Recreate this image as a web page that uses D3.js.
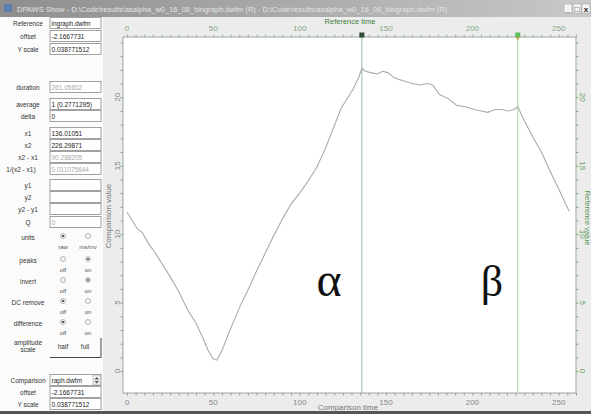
<!DOCTYPE html>
<html>
<head>
<meta charset="utf-8">
<script src="https://cdn.jsdelivr.net/npm/d3@7"></script>
<style>
  body { margin: 0; background: #fff; overflow: hidden; }
  svg text { font-family: "Liberation Sans", Arial, sans-serif; }
</style>
</head>
<body>
<svg id="chart" width="591" height="414"></svg>
<script>
// curve (comparison time / value)
const timeVals = [0, 3, 6, 9, 12, 16, 20, 25, 30, 35, 40, 44, 47, 50, 52, 55, 60, 65, 70, 75, 80, 85, 90, 95,
  100, 105, 110, 115, 120, 124, 128, 131, 134, 136, 138, 141, 145, 148, 151, 155, 160, 165, 170, 174, 177,
  181, 186, 191, 196, 201, 205, 209, 213, 217, 221, 224, 226.3, 230, 235, 240, 245, 250, 254, 256];
const compVals = [11.6, 11.0, 10.4, 10.1, 9.4, 8.7, 7.9, 6.9, 5.8, 4.5, 3.5, 2.4, 1.5, 0.9, 0.8, 1.5, 3.1, 4.6, 5.9, 7.3, 8.6, 9.9, 11.1, 12.2,
  13.0, 13.9, 14.9, 16.3, 17.9, 19.2, 20.0, 20.6, 21.4, 22.1, 21.9, 21.8, 21.7, 21.9, 21.8, 21.4, 21.2, 21.0, 20.9, 21.0, 20.9,
  20.2, 19.9, 19.4, 19.3, 19.1, 19.0, 18.9, 19.1, 19.1, 19.0, 19.1, 19.3, 18.3, 17.1, 16.0, 14.6, 13.3, 12.2, 11.7];
const xTicks = [0, 50, 100, 150, 200, 250];
const yTicks = [0, 5, 10, 15, 20];
const cursorX1 = 136.01051;
const cursorX2 = 226.29871;
const greekLabels = ["α", "β"];

// panel on the left
const fieldLabels = ["Reference", "offset", "Y scale", "duration", "average", "delta", "x1", "x2", "x2 - x1", "1/(x2 - x1)", "y1", "y2", "y2 - y1", "Q"];
const fieldValues = ["ingraph.dwfm", "-2.1667731", "0.038771512", "261.05602", "1 (0.2771295)", "0", "136.01051", "226.29871", "90.288205", "0.011075644", "", "", "", "0"];
const fieldDisabled = [false, false, false, true, false, false, false, false, true, true, false, false, false, true];
const radioLabels = ["units", "peaks", "invert", "DC remove", "difference"];
const radioOptions = [["raw", "ms/mv"], ["off", "on"], ["off", "on"], ["off", "on"], ["off", "on"]];
const radioChecked = [0, 1, 1, 0, 0];
const compLabels = ["Comparison", "offset", "Y scale"];
const compValues = ["raph.dwfm", "-2.1667731", "0.038771512"];
const titleText = "DPAWS Show - D:\\Code\\results\\asalpha_w0_16_08_bingraph.dwfm (R) - D:\\Code\\results\\asalpha_w0_16_08_bingraph.dwfm (R)";

var svg = d3.select("#chart");

// fondo de la ventana
svg.append("rect").attr("width", 591).attr("height", 414).attr("fill", "#fbfbfb");
svg.append("rect").attr("x", 103).attr("y", 17).attr("width", 488).attr("height", 394).attr("fill", "#ececec");

// barra de titulo
var grad = svg.append("defs").append("linearGradient").attr("id", "tbar");
grad.append("stop").attr("offset", "0%").attr("stop-color", "#8e8e8e");
grad.append("stop").attr("offset", "100%").attr("stop-color", "#c8c8c8");
svg.append("rect").attr("width", 591).attr("height", 17).attr("fill", "url(#tbar)");
svg.append("rect").attr("x", 4).attr("y", 4).attr("width", 8).attr("height", 8).attr("fill", "#5a7fb0");
svg.append("text").attr("x", 17).attr("y", 11.5).attr("font-size", 7.5).attr("fill", "#e4e4e4").text(titleText);
svg.append("rect").attr("x", 562).attr("y", 0).attr("width", 29).attr("height", 17).attr("fill", "#c8c8c8");
["_", "□", "x"].forEach(function (g, i) {
    svg.append("rect").attr("x", 564 + i * 9).attr("y", 4).attr("width", 8).attr("height", 9)
        .attr("fill", "#f4f4f4").attr("stroke", "#999").attr("stroke-width", 0.5);
    svg.append("text").attr("x", 568 + i * 9).attr("y", 11.5).attr("text-anchor", "middle")
        .attr("font-size", 8).attr("font-weight", "bold").attr("fill", "#222").text(g);
});
svg.append("rect").attr("x", 0).attr("y", 411).attr("width", 591).attr("height", 3).attr("fill", "#555");

// ---- panel izquierdo ----
var panel = svg.append("g");
var rowTop = [17, 30, 43, 81, 98, 110, 127, 139, 151, 163, 179, 191, 203, 216];

function caja(g, top, value, disabled, label) {
    g.append("text").attr("x", label === "1/(x2 - x1)" ? 21 : 28).attr("y", top + 8.5)
        .attr("text-anchor", "middle").attr("font-size", 6.5).attr("fill", "#333").text(label);
    g.append("rect").attr("x", 50).attr("y", top + 0.5).attr("width", 51).attr("height", 11)
        .attr("fill", "#fff").attr("stroke", "#8a8a8a").attr("stroke-width", 0.8);
    g.append("text").attr("x", 51.5).attr("y", top + 8.5).attr("font-size", 6.5)
        .attr("fill", disabled ? "#a8a8a8" : "#222").text(value);
}

fieldLabels.forEach(function (l, i) {
    caja(panel, rowTop[i], fieldValues[i], fieldDisabled[i], l);
});

var radioY = [236, 259, 280, 301, 322];
radioLabels.forEach(function (l, i) {
    panel.append("text").attr("x", 28).attr("y", radioY[i] + 4).attr("text-anchor", "middle")
        .attr("font-size", 6.5).attr("fill", "#333").text(l);
    [63, 88].forEach(function (cx, j) {
        panel.append("circle").attr("cx", cx).attr("cy", radioY[i]).attr("r", 2.4)
            .attr("fill", "#fff").attr("stroke", "#888").attr("stroke-width", 0.7);
        if (radioChecked[i] === j) {
            panel.append("circle").attr("cx", cx).attr("cy", radioY[i]).attr("r", 1.1).attr("fill", "#333");
        }
        panel.append("text").attr("x", cx).attr("y", radioY[i] + 13).attr("text-anchor", "middle")
            .attr("font-size", 6).attr("fill", "#555").text(radioOptions[i][j]);
    });
});

panel.append("text").attr("x", 28).attr("y", 345).attr("text-anchor", "middle").attr("font-size", 6.5).attr("fill", "#333").text("amplitude");
panel.append("text").attr("x", 28).attr("y", 352).attr("text-anchor", "middle").attr("font-size", 6.5).attr("fill", "#333").text("scale");
panel.append("text").attr("x", 63).attr("y", 349).attr("text-anchor", "middle").attr("font-size", 6.5).attr("fill", "#333").text("half");
panel.append("text").attr("x", 85).attr("y", 349).attr("text-anchor", "middle").attr("font-size", 6.5).attr("fill", "#333").text("full");
panel.append("path").attr("d", "M50,357.5H101V338").attr("fill", "none").attr("stroke", "#444").attr("stroke-width", 1);

var compTop = [374, 386, 398];
compLabels.forEach(function (l, i) {
    caja(panel, compTop[i], compValues[i], false, l);
});
panel.append("rect").attr("x", 93).attr("y", 375).attr("width", 7.5).attr("height", 10).attr("fill", "#eee").attr("stroke", "#999").attr("stroke-width", 0.5);
panel.append("path").attr("d", "M94.5,379.5L96.75,377L99,379.5ZM94.5,381L96.75,383.5L99,381Z").attr("fill", "#555");

// ---- grafico ----
var x = d3.scaleLinear().domain([-2.3, 260]).range([123, 576]);
var y = d3.scaleLinear().domain([-1.6, 24.4]).range([393, 37]);

svg.append("rect").attr("x", 123).attr("y", 37).attr("width", 453).attr("height", 356)
    .attr("fill", "#fff").attr("stroke", "#9aa59a").attr("stroke-width", 1);

// ejes
function ejeX(axisFn, ty, color, labelY) {
    var g = svg.append("g").attr("transform", "translate(0," + ty + ")")
        .call(axisFn(x).tickValues(d3.range(0, 261, 5)).tickSize(2.5).tickFormat(""));
    g.select(".domain").remove();
    g.selectAll("line").attr("stroke", color).attr("stroke-width", 0.8);
    xTicks.forEach(function (t) {
        svg.append("text").attr("x", x(t)).attr("y", labelY).attr("text-anchor", "middle")
            .attr("font-size", 8).attr("fill", color).text(t);
    });
}
ejeX(d3.axisBottom, 393, "#888", 405);
ejeX(d3.axisTop, 37, "#84a884", 31);

function ejeY(axisFn, tx, color, labelX, rot) {
    var g = svg.append("g").attr("transform", "translate(" + tx + ",0)")
        .call(axisFn(y).tickValues(d3.range(0, 25, 1)).tickSize(2.5).tickFormat(""));
    g.select(".domain").remove();
    g.selectAll("line").attr("stroke", color).attr("stroke-width", 0.8);
    yTicks.forEach(function (t) {
        svg.append("text").attr("transform", "translate(" + labelX + "," + y(t) + ") rotate(" + rot + ")")
            .attr("text-anchor", "middle").attr("dy", "0.35em")
            .attr("font-size", 8).attr("fill", color).text(t);
    });
}
ejeY(d3.axisLeft, 123, "#888", 117, -90);
ejeY(d3.axisRight, 576, "#5f9f5f", 583, 90);

svg.append("text").attr("x", 348).attr("y", 410).attr("text-anchor", "middle")
    .attr("font-size", 8).attr("fill", "#777").text("Comparison time");
svg.append("text").attr("x", 350).attr("y", 24).attr("text-anchor", "middle")
    .attr("font-size", 7.5).attr("fill", "#3d7d3d").text("Reference time");
svg.append("text").attr("transform", "translate(111,216) rotate(-90)").attr("text-anchor", "middle")
    .attr("font-size", 8).attr("fill", "#777").text("Comparison value");
svg.append("text").attr("transform", "translate(585,218) rotate(90)").attr("text-anchor", "middle")
    .attr("font-size", 7.5).attr("fill", "#4f934f").text("Reference value");

// cursores
svg.append("line").attr("x1", x(cursorX1)).attr("x2", x(cursorX1)).attr("y1", 37).attr("y2", 393)
    .attr("stroke", "#9ab8b0").attr("stroke-width", 1);
svg.append("line").attr("x1", x(cursorX2)).attr("x2", x(cursorX2)).attr("y1", 37).attr("y2", 393)
    .attr("stroke", "#a8d8a0").attr("stroke-width", 1);
svg.append("rect").attr("x", x(cursorX1) - 2.5).attr("y", 32.5).attr("width", 5).attr("height", 5).attr("fill", "#2d4a35");
svg.append("rect").attr("x", x(cursorX2) - 2.5).attr("y", 32.5).attr("width", 5).attr("height", 5).attr("fill", "#5cc05c");
svg.append("path").attr("d", "M" + (x(cursorX2) - 2) + ",37.5L" + (x(cursorX2) + 2) + ",37.5L" + x(cursorX2) + ",40Z").attr("fill", "#e08a30");

// curva
var data = timeVals.map(function (t, i) { return [t, compVals[i]]; });
svg.append("path").datum(data)
    .attr("d", d3.line().x(function (d) { return x(d[0]); }).y(function (d) { return y(d[1]); }))
    .attr("fill", "none").attr("stroke", "#aaaaaa").attr("stroke-width", 1.1);

// letras griegas
svg.append("text").attr("x", 329).attr("y", 296).attr("text-anchor", "middle")
    .style("font-family", "'Liberation Serif', 'DejaVu Serif', serif").style("font-size", "48px")
    .attr("fill", "#111").text(greekLabels[0]);
svg.append("text").attr("x", 492).attr("y", 296).attr("text-anchor", "middle")
    .style("font-family", "'Liberation Serif', 'DejaVu Serif', serif").style("font-size", "44px")
    .attr("fill", "#111").text(greekLabels[1]);
</script>
</body>
</html>
